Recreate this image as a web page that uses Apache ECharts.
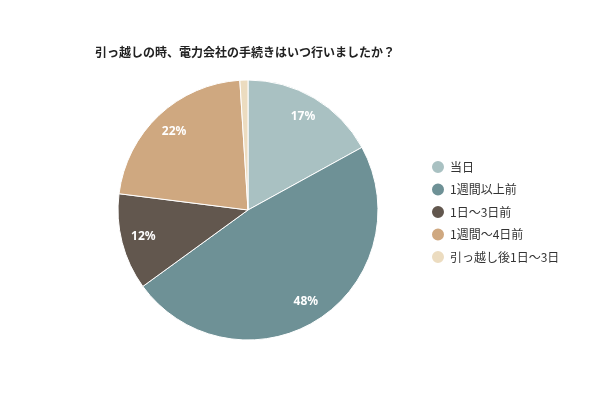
<!DOCTYPE html>
<html><head><meta charset="utf-8">
<script src="https://cdn.jsdelivr.net/npm/echarts@6/dist/echarts.min.js"></script>
<style>html,body{margin:0;padding:0;background:#fff}#c{width:600px;height:400px}</style>
</head><body><div id="c"></div>
<script>
var categories = ['当日','1週間以上前','1日〜3日前','1週間〜4日前','引っ越し後1日〜3日'];
var values = [17,48,12,22,1];
var colors = ['#a9c1c2','#6e9196','#62574e','#cfa880','#ecdcc0'];
var chart = echarts.init(document.getElementById('c'));
var data = categories.map(function(n,i){return {name:n,value:values[i]};});
var labelData = categories.map(function(n,i){return {name:n,value:values[i],label:{show:values[i]>=5}};});
chart.setOption({
  animation:false,
  color:colors,
  title:{text:'引っ越しの時、電力会社の手続きはいつ行いましたか？',left:90,top:41,
    textStyle:{fontSize:12,fontWeight:'bold',color:'#222',fontFamily:'Noto Sans CJK JP'}},
  legend:{orient:'vertical',left:425,top:154,icon:'circle',itemWidth:14,itemHeight:14,itemGap:6.5,
    textStyle:{fontSize:12,color:'#333',fontFamily:'Noto Sans CJK JP',lineHeight:16},data:categories},
  series:[
    {type:'pie',radius:130,center:[248,210],startAngle:90,clockwise:true,data:data,
     label:{show:false},labelLine:{show:false},itemStyle:{borderColor:'#fff',borderWidth:1},silent:true},
    {type:'pie',radius:[80,130],center:[248,210],startAngle:90,clockwise:true,data:labelData,
     itemStyle:{color:'rgba(0,0,0,0)'},legendHoverLink:false,silent:true,
     label:{position:'inside',formatter:'{c}%',color:'#fff',fontWeight:'bold',fontSize:12,fontFamily:'Noto Sans'},
     labelLine:{show:false}}
  ]
});
</script></body></html>
